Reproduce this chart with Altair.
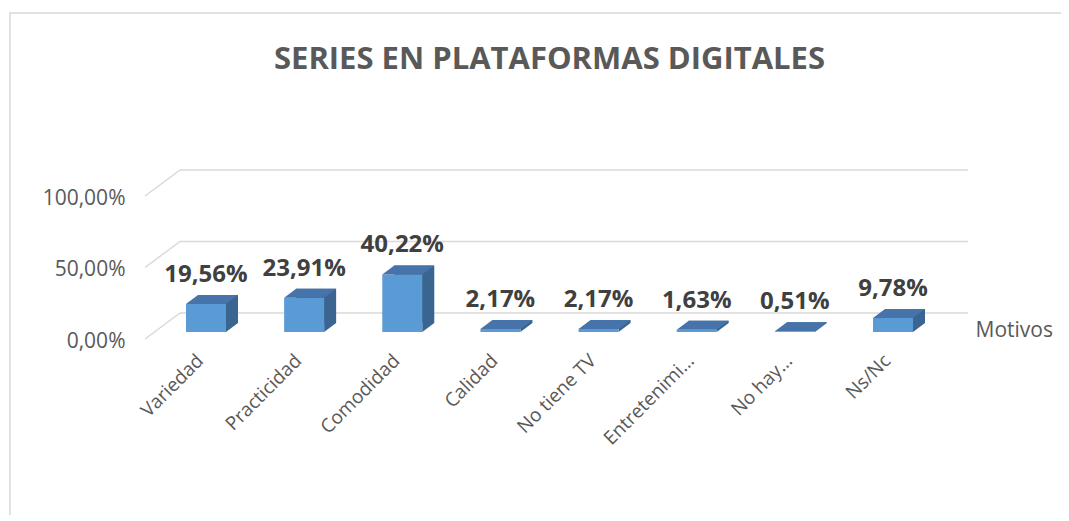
import altair as alt
import pandas as pd

categories = ["Variedad", "Practicidad", "Comodidad", "Calidad", "No tiene TV",
              "Entretenimi…", "No hay…", "Ns/Nc"]
values = [19.56, 23.91, 40.22, 2.17, 2.17, 1.63, 0.51, 9.78]
tick_values = [0.0, 0.5, 1.0]
title_text = "SERIES EN PLATAFORMAS DIGITALES"
x_title = "Motivos"

FONT = "Open Sans"
GRAY = "#595959"
FRONT = "#5B9BD5"
TOP = "#4674AA"
SIDE = "#3B6591"
GRID = "#d9d9d9"

W, H = 823, 143
DEPTH_X, DEPTH_Y = 12, 9
FRONT_DROP = 19

df = pd.DataFrame({"cat": categories, "pct": values})
df["v"] = df["pct"] / 100.0
df["zero"] = 0.0
df["label"] = [f"{p:.2f}%".replace(".", ",") for p in values]

gdf = pd.DataFrame({"t": tick_values})

x_scale = alt.Scale(domain=categories, paddingInner=0.5924, paddingOuter=0.489, align=0.427)
y_scale = alt.Scale(domain=[0, 1], nice=False)

x_axis = alt.Axis(title=x_title, domain=False, ticks=False, grid=False, labelAngle=-45,
                  labelPadding=38, labelOffset=-12, labelFont=FONT, labelFontSize=19,
                  labelColor=GRAY, labelLimit=200, titleFont=FONT, titleFontSize=21,
                  titleFontWeight="normal", titleColor=GRAY, titleX=830, titleY=17,
                  titleAlign="left", titleBaseline="middle", titleAngle=0)
y_axis = alt.Axis(values=tick_values, title=None, domain=False, ticks=False, grid=False,
                  labelExpr="replace(format(datum.value, '.2%'), '.', ',')",
                  labelOffset=28, labelPadding=20, labelFont=FONT, labelFontSize=21,
                  labelColor=GRAY)

X = alt.X("cat:N", sort=categories, scale=x_scale, axis=x_axis, title=x_title)
Y = alt.Y("v:Q", scale=y_scale, axis=y_axis, title=None)

border = alt.Chart(pd.DataFrame({"a": [0]})).mark_rect(
    fill="transparent", stroke=GRID, strokeWidth=1.5
).encode(x=alt.value(-135), x2=alt.value(W + 200), y=alt.value(-157), y2=alt.value(H + 300))

grid_h = alt.Chart(gdf).mark_rule(color=GRID, strokeWidth=1.5).encode(
    x=alt.value(35), x2=alt.value(W),
    y=alt.Y("t:Q", scale=y_scale, axis=y_axis, title=None))
grid_d = alt.Chart(gdf).mark_rule(color=GRID, strokeWidth=1.5, yOffset=26).encode(
    x=alt.value(0), x2=alt.value(35),
    y=alt.Y("t:Q", scale=y_scale, axis=y_axis, title=None), y2="t:Q")

base = alt.Chart(df)

back = base.mark_bar(color=SIDE, xOffset=DEPTH_X, x2Offset=DEPTH_X,
                     yOffset=FRONT_DROP - DEPTH_Y, y2Offset=FRONT_DROP - DEPTH_Y).encode(x=X, y=Y)

tri_path = "M 0.8 -0.36 L 0.8 0 L 1.28 -0.36 Z"
bottom_tri = base.mark_point(shape=tri_path, size=2500, filled=True, opacity=1, color=SIDE,
                             strokeWidth=0, yOffset=FRONT_DROP).encode(
    x=X, y=alt.Y("zero:Q", scale=y_scale, axis=y_axis, title=None))

front = base.mark_bar(color=FRONT, yOffset=FRONT_DROP, y2Offset=FRONT_DROP).encode(x=X, y=Y)

top_path = "M -0.8 0 L 0.8 0 L 1.28 -0.36 L -0.32 -0.36 Z"
top = base.mark_point(shape=top_path, size=2500, filled=True, opacity=1, color=TOP,
                      strokeWidth=0, yOffset=FRONT_DROP).encode(x=X, y=Y)

labels = base.mark_text(font=FONT, fontSize=24, fontWeight="bold", color="#404040",
                        baseline="middle", align="center", dy=FRONT_DROP - 29).encode(
    x=X, y=Y, text="label:N")

chart = alt.layer(border, grid_h, grid_d, back, bottom_tri, front, top, labels).properties(
    width=W, height=H,
    title=alt.TitleParams(title_text, font=FONT, fontSize=31, fontWeight="bold", color=GRAY,
                          anchor="middle", dx=-7, offset=-79, baseline="middle"),
    autosize=alt.AutoSizeParams(type="none"),
    padding={"left": 137, "top": 162, "right": 93, "bottom": 202},
).configure_view(stroke=None)

chart.save("out.html", embed_options={"renderer": "svg", "actions": False})
